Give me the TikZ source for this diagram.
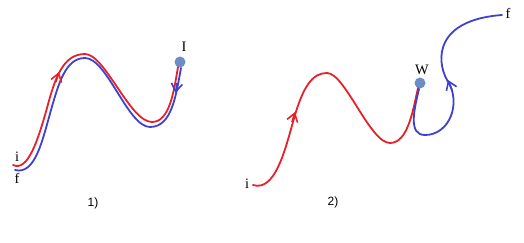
\documentclass[tikz,border=0pt]{standalone}
\usepackage{fontspec}
\setmainfont{Liberation Serif}
\setsansfont{Liberation Sans}
\usetikzlibrary{arrows.meta}

\definecolor{redpath}{RGB}{232,32,42}
\definecolor{bluepath}{RGB}{64,64,208}
\definecolor{dotblue}{RGB}{108,142,200}

\tikzset{
  pathline/.style={line width=1.8pt, line cap=round},
  tip/.style={line width=1.6pt, -{Straight Barb[length=8pt,width=11pt]}},
  dot/.style={circle, fill=dotblue, inner sep=0pt, minimum size=11pt},
  lbl/.style={font=\Large, inner sep=1pt},
  caption/.style={font=\sffamily\large}
}

\begin{document}
\begin{tikzpicture}[x=1pt,y=-1pt]
  \useasboundingbox (0,0) rectangle (524,243);

  % Part 1: the path returns along itself
  \node[dot] (I) at (180,62) {};
  \node[lbl] (Ilbl) at (184,47) {I};
  \coordinate (i1) at (13,165);
  \coordinate (f1) at (15,170);
  \node[lbl] (ilbl1) at (17,157) {i};
  \node[lbl] (flbl1) at (17,178) {f};

  \draw[pathline, redpath] (i1)
    .. controls (28,172) and (38,140) .. (47,108)
    .. controls (55,78) and (63,54) .. (85,54)
    .. controls (105,54) and (130,122) .. (152,122)
    .. controls (170,122) and (174,90) .. (178,67);
  \draw[pathline, bluepath] (181,68)
    .. controls (176,95) and (172,127) .. (150,127)
    .. controls (128,127) and (107,58) .. (85,58)
    .. controls (66,58) and (59,82) .. (51,110)
    .. controls (42,142) and (35,175) .. (f1);
  % direction marks
  \coordinate (r1a) at (56,82);
  \coordinate (r1b) at (59,72);
  \coordinate (b1a) at (177,83);
  \coordinate (b1b) at (175.5,93);
  \draw[tip, redpath] (r1a) -- (r1b);
  \draw[tip, bluepath] (b1a) -- (b1b);

  % Part 2: the path leaves W towards f
  \node[dot] (W) at (420,83) {};
  \node[lbl] (Wlbl) at (422,70) {W};
  \coordinate (i2) at (253,185);
  \coordinate (f2) at (502,15);
  \node[lbl] (ilbl2) at (247,184) {i};
  \node[lbl] (flbl2) at (508,13) {f};

  \draw[pathline, redpath] (i2)
    .. controls (275,192) and (285,150) .. (293,122)
    .. controls (303,85) and (313,73) .. (327,73)
    .. controls (345,73) and (370,143) .. (390,143)
    .. controls (408,143) and (413,110) .. (418,88);
  \draw[pathline, bluepath] (419,89)
    .. controls (414,110) and (408,135) .. (425,135)
    .. controls (450,135) and (462,102) .. (447,80)
    .. controls (436,60) and (435,20) .. (f2);
  % direction marks
  \coordinate (r2a) at (292,122);
  \coordinate (r2b) at (295,112);
  \coordinate (b2a) at (452,90);
  \coordinate (b2b) at (448,80);
  \draw[tip, redpath] (r2a) -- (r2b);
  \draw[tip, bluepath] (b2a) -- (b2b);

  % captions
  \node[caption] (cap1) at (93,203) {1)};
  \node[caption] (cap2) at (333,202) {2)};
\end{tikzpicture}
\end{document}
